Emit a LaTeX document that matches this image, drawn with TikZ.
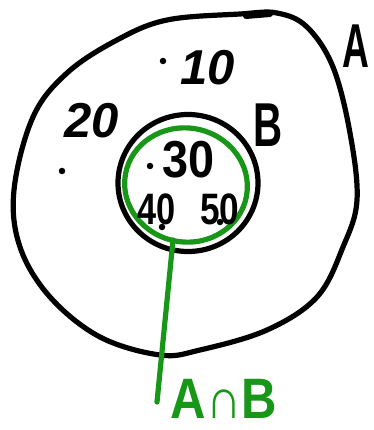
\documentclass[tikz,border=0pt]{standalone}
\usepackage{fontspec}
\setmainfont{Liberation Sans}
\usetikzlibrary{shapes.geometric}
\definecolor{pen}{RGB}{24,150,24}
\newcommand{\narrow}[2]{\scalebox{#1}[1]{#2}}
\begin{document}
\begin{tikzpicture}[x=1pt,y=-1pt,
  ink/.style={line width=5.2pt,line cap=round,line join=round},
  gink/.style={ink,draw=pen},
  num/.style={inner sep=0pt,font=\fontsize{49}{49}\selectfont\bfseries\itshape},
  mid/.style={inner sep=0pt,font=\fontsize{52}{52}\selectfont\bfseries},
  small/.style={inner sep=0pt,font=\fontsize{44}{44}\selectfont\bfseries},
  setlbl/.style={inner sep=0pt,font=\fontsize{62}{62}\selectfont\bfseries},
  pt/.style={circle,fill=black,inner sep=0pt,minimum size=6.5pt}]
\useasboundingbox (0,0) rectangle (373,430);
% outer set A
\draw[ink] plot[smooth cycle,tension=0.6] coordinates {
 (240,14) (277,13) (307,27) (333,67) (350,133) (357,200) (343,247)
 (317,297) (267,330) (200,350) (160,355) (100,337) (50,297) (20,247)
 (14,190) (33,117) (67,73) (117,40) (167,20)};
\draw[line width=6pt,line cap=round] (246,16) -- (270,14);
% set B
\node[ellipse,draw,ink,minimum width=140pt,minimum height=137pt] (B) at (188,183) {};
% intersection
\node[ellipse,gink,minimum width=123pt,minimum height=114pt,rotate=-10] (G) at (186,185) {};
% labels
\node[setlbl] (lA) at (356,46) {\narrow{0.6}{A}};
\node[setlbl] (lB) at (268,125) {\narrow{0.65}{B}};
\node[setlbl,text=pen,font=\fontsize{57}{57}\selectfont\bfseries] (lAB) at (224,399) {\narrow{0.86}{A∩B}};
\coordinate (e) at (157,402);
\draw[gink] (173,240) -- (e);
% elements
\node[num] (n10) at (208,68) {10};
\node[num] (n20) at (92,121) {20};
\node[mid] (n30) at (189,160) {\narrow{0.9}{30}};
\node[small] (n40) at (157,209) {\narrow{0.78}{40}};
\node[small] (n50) at (220,209) {\narrow{0.8}{50}};
\node[pt] (d1) at (163,61) {};
\node[pt] (d2) at (62,171) {};
\node[pt] (d3) at (150,166) {};
\node[pt] (d4) at (162,227) {};
\node[pt] (d5) at (220,222) {};
\end{tikzpicture}
\end{document}
